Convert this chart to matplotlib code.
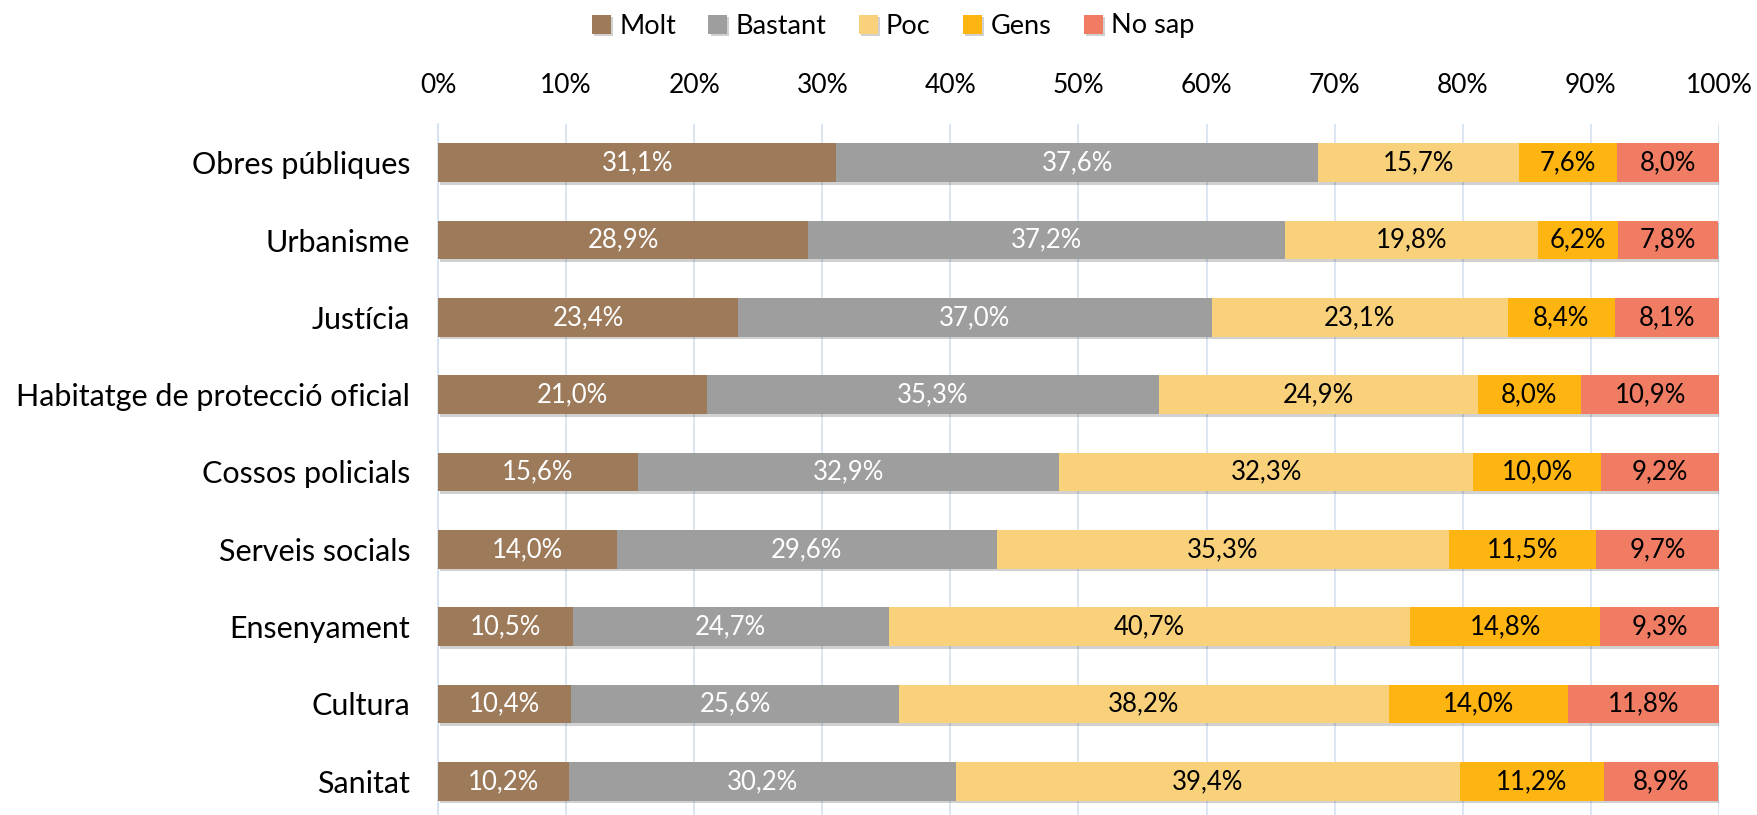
import matplotlib
matplotlib.use("Agg")
import matplotlib.pyplot as plt
import matplotlib.patheffects as pe
from matplotlib.ticker import PercentFormatter
import numpy as np

# data
categories = ["Obres públiques", "Urbanisme", "Justícia", "Habitatge de protecció oficial",
              "Cossos policials", "Serveis socials", "Ensenyament", "Cultura", "Sanitat"]
series = ["Molt", "Bastant", "Poc", "Gens", "No sap"]
molt = [31.1, 28.9, 23.4, 21.0, 15.6, 14.0, 10.5, 10.4, 10.2]
bastant = [37.6, 37.2, 37.0, 35.3, 32.9, 29.6, 24.7, 25.6, 30.2]
poc = [15.7, 19.8, 23.1, 24.9, 32.3, 35.3, 40.7, 38.2, 39.4]
gens = [7.6, 6.2, 8.4, 8.0, 10.0, 11.5, 14.8, 14.0, 11.2]
no_sap = [8.0, 7.8, 8.1, 10.9, 9.2, 9.7, 9.3, 11.8, 8.9]

colors = ["#9C7A5A", "#9E9E9E", "#FAD17B", "#FFB511", "#F07D63"]
text_colors = ["white", "white", "black", "black", "black"]

plt.rcParams['font.family'] = ['Lato', 'DejaVu Sans']

fig = plt.figure(figsize=(17.58, 8.15), dpi=100)
W, H = 1758, 815
ax = fig.add_axes([438 / W, 1 - 820 / H, (1719 - 438) / W, (820 - 124) / H])

y = np.arange(len(categories))
left = np.zeros(len(categories))
shadow = [pe.SimplePatchShadow(offset=(1.5, -2), shadow_rgbFace="black", alpha=0.18), pe.Normal()]
for name, vals, col, tcol in zip(series, [molt, bastant, poc, gens, no_sap], colors, text_colors):
    vals = np.array(vals)
    bars = ax.barh(y, vals, left=left, height=0.5, color=col, label=name, zorder=3)
    for b in bars:
        b.set_path_effects(shadow)
    for yi, l, v in zip(y, left, vals):
        ax.text(l + v / 2, yi, f"{v:.1f}%".replace(".", ","), ha="center", va="center",
                color=tcol, fontsize=18.5, zorder=4)
    left += vals

ax.set_xlim(0, 100)
ax.set_ylim(len(categories) - 0.5, -0.5)
ax.set_yticks(y)
ax.set_yticklabels(categories, fontsize=22)
ax.set_xticks(np.arange(0, 101, 10))
ax.xaxis.set_major_formatter(PercentFormatter(decimals=0))
ax.xaxis.tick_top()
ax.tick_params(axis="x", labelsize=19, length=0, pad=19)
ax.tick_params(axis="y", length=0, pad=20)
ax.grid(axis="x", color="#D5E1F0", linewidth=1.2, zorder=0)
for s in ["top", "right", "bottom"]:
    ax.spines[s].set_visible(False)
ax.spines["left"].set_color("#D5E1F0")
ax.spines["left"].set_linewidth(1.2)

fig.legend(loc="center", bbox_to_anchor=(893 / W, 1 - 26 / H), ncol=5, frameon=False,
           fontsize=19.5, handlelength=0.7, handleheight=0.7, handletextpad=0.3,
           columnspacing=1.2, borderaxespad=0)

fig.savefig("out.png", dpi=100)
